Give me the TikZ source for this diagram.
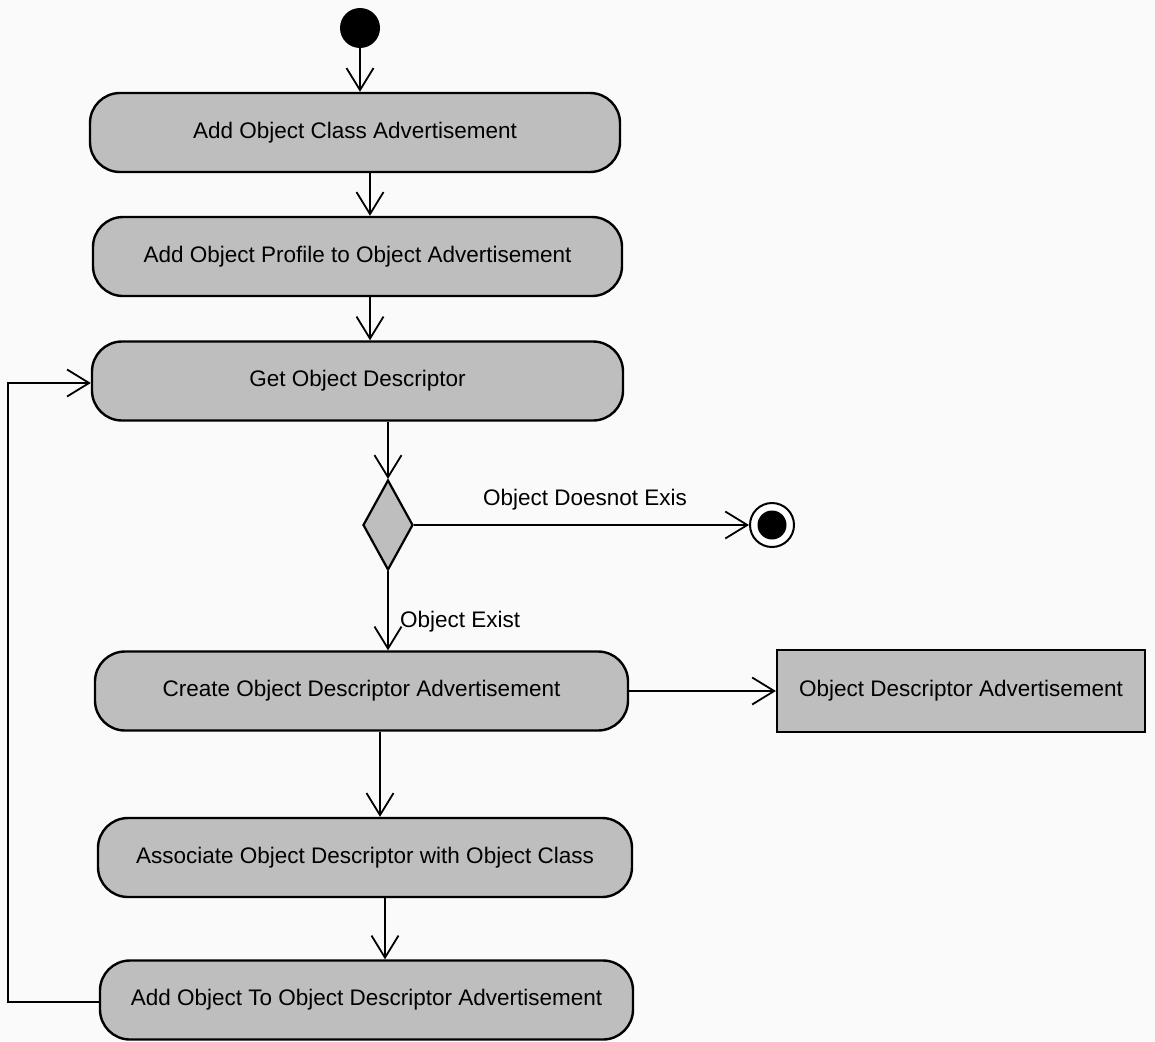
\documentclass[tikz,border=0pt]{standalone}
\usepackage{fontspec}
\setmainfont{Liberation Sans}
\usetikzlibrary{arrows.meta,shapes.geometric,calc}
\definecolor{actfill}{RGB}{190,190,190}
\definecolor{bgcol}{RGB}{250,250,250}
\begin{document}
\begin{tikzpicture}[x=1pt,y=-1pt,
  font=\fontsize{22.5}{26}\selectfont,
  activity/.style={draw=black,line width=2.4pt,fill=actfill,rounded corners=30pt,
    minimum height=79pt,inner sep=0pt},
  objbox/.style={draw=black,line width=2.2pt,fill=actfill,minimum width=368pt,
    minimum height=82pt,inner sep=0pt},
  choice/.style={draw=black,line width=2.2pt,fill=actfill,diamond,aspect=0.55,
    minimum width=50pt,minimum height=90pt,inner sep=0pt},
  flow/.style={draw=black,line width=1.8pt,-{Straight Barb[length=22pt,width=27pt,line width=1.8pt]}},
  lbl/.style={inner sep=0pt}]
  % canvas
  \path[fill=bgcol] (0,0) rectangle (1155,1041);
  \useasboundingbox (0,0) rectangle (1155,1041);

  % start and end markers
  \node[circle,fill=black,minimum size=40pt,inner sep=0pt] (init) at (360,28) {};
  \node[circle,draw=black,line width=2pt,fill=white,minimum size=44pt,inner sep=0pt] (fin) at (772,525) {};
  \node[circle,fill=black,minimum size=29pt,inner sep=0pt] at (fin) {};

  % activities
  \node[activity,minimum width=530pt] (b1) at (355,132.5) {Add Object Class Advertisement};
  \node[activity,minimum width=529pt] (b2) at (357.5,256.5) {Add Object Profile to Object Advertisement};
  \node[activity,minimum width=531pt] (b3) at (357.5,381) {Get Object Descriptor};
  \node[choice] (d) at (388,525) {};
  \node[activity,minimum width=533pt] (b4) at (361.5,691) {Create Object Descriptor Advertisement};
  \node[activity,minimum width=534pt] (b5) at (365,857.5) {Associate Object Descriptor with Object Class};
  \node[activity,minimum width=533pt] (b6) at (366.5,1000) {Add Object To Object Descriptor Advertisement};
  \node[objbox] (obj) at (961,691) {Object Descriptor Advertisement};

  % guard labels
  \node[lbl] (gno) at (585,500) {Object Doesnot Exis};
  \node[lbl,anchor=west] (gyes) at (400,622) {Object Exist};

  % control flow
  \draw[flow] (init.south) -- (init.south |- b1.north);
  \draw[flow] ($(b1.south)+(15,0)$) -- ($(b2.north)+(12.5,0)$);
  \draw[flow] ($(b2.south)+(12.5,0)$) -- ($(b3.north)+(12.5,0)$);
  \draw[flow] (d.north |- b3.south) -- (d.north);
  \draw[flow] (d.east) -- (fin.west);
  \draw[flow] (d.south) -- (d.south |- b4.north);
  \draw[flow] (b4.east |- obj.west) -- (obj.west);
  \draw[flow] ($(b4.south)+(18.5,0)$) -- ($(b5.north)+(15,0)$);
  \draw[flow] ($(b5.south)+(20,0)$) -- ($(b6.north)+(18.5,0)$);
  \coordinate (lb) at (8,1002);
  \coordinate (lt) at (8,383);
  \draw[flow] (b6.west |- lb) -- (lb) -- (lt) -- (b3.west |- lt);
\end{tikzpicture}
\end{document}
